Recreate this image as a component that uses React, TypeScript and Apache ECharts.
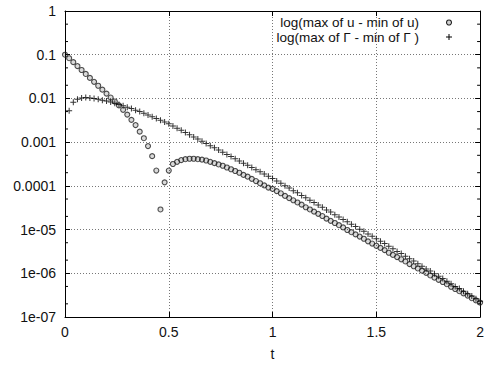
import React, { useEffect, useRef } from "react";
import * as echarts from "echarts";

// Sampling step of the time series (t)
const timeStep = 0.02;

// Base-10 exponents of (max of u - min of u), sampled at t = 0, 0.02, ..., 2
const uSpreadExp = [
  -1.0, -1.08, -1.17, -1.26, -1.35, -1.44, -1.53, -1.62, -1.71, -1.8,
  -1.89, -1.98, -2.07, -2.16, -2.26, -2.37, -2.49, -2.61, -2.76, -2.91,
  -3.09, -3.32, -3.65, -4.54, -3.92, -3.65, -3.5, -3.45, -3.41, -3.39,
  -3.38, -3.38, -3.39, -3.4, -3.42, -3.45, -3.48, -3.51, -3.54, -3.58,
  -3.62, -3.66, -3.7, -3.75, -3.79, -3.84, -3.89, -3.94, -3.99, -4.04,
  -4.07, -4.12, -4.17, -4.23, -4.28, -4.33, -4.38, -4.43, -4.49, -4.54,
  -4.59, -4.64, -4.69, -4.75, -4.8, -4.85, -4.9, -4.95, -5.01, -5.06,
  -5.11, -5.16, -5.21, -5.27, -5.32, -5.37, -5.42, -5.47, -5.53, -5.58,
  -5.63, -5.68, -5.73, -5.79, -5.84, -5.89, -5.94, -5.99, -6.05, -6.1,
  -6.15, -6.2, -6.25, -6.31, -6.36, -6.41, -6.46, -6.51, -6.57, -6.62,
  -6.67,
];

// Base-10 exponents of (max of Γ - min of Γ), sampled at t = 0.02, 0.04, ..., 2
const gammaSpreadExp = [
  -2.28, -2.09, -2.02, -1.99, -1.98, -1.99, -2.0, -2.02, -2.04, -2.06,
  -2.08, -2.11, -2.14, -2.17, -2.2, -2.23, -2.27, -2.3, -2.34, -2.38,
  -2.42, -2.46, -2.5, -2.54, -2.58, -2.63, -2.68, -2.73, -2.78, -2.83,
  -2.88, -2.93, -2.98, -3.03, -3.08, -3.13, -3.18, -3.23, -3.28, -3.33,
  -3.38, -3.43, -3.48, -3.53, -3.58, -3.63, -3.68, -3.73, -3.78, -3.83,
  -3.89, -3.94, -4.0, -4.05, -4.11, -4.16, -4.22, -4.27, -4.33, -4.38,
  -4.44, -4.49, -4.55, -4.6, -4.66, -4.71, -4.77, -4.82, -4.88, -4.93,
  -4.99, -5.04, -5.1, -5.15, -5.21, -5.27, -5.32, -5.38, -5.44, -5.5,
  -5.55, -5.61, -5.67, -5.72, -5.78, -5.84, -5.9, -5.95, -6.01, -6.07,
  -6.12, -6.18, -6.24, -6.3, -6.35, -6.41, -6.47, -6.52, -6.58, -6.64,
];
const gammaFirstSample = 1;

// Decade labels, from 1e-07 up to 1
const yTickLabels = ["1e-07", "1e-06", "1e-05", "0.0001", "0.001", "0.01", "0.1", "1"];
const yMinExp = -7;
// Minor tick mantissas inside each decade
const yMinorMantissas = [2, 5];

const xMin = 0;
const xMax = 2;
const xInterval = 0.5;

const legendLabels = ["log(max of u - min of u)", "log(max of \u0393 - min of \u0393 )"];

const FONT = "'Liberation Sans', Arial, Helvetica, sans-serif";
const INK = "#111";
const PLUS_PATH = "path://M5,0h2v5h5v2h-5v5h-2v-5h-5v-2h5z";

const uPoints = uSpreadExp.map((e, i) => [Number((i * timeStep).toFixed(2)), Math.pow(10, e)]);
const gammaPoints = gammaSpreadExp.map((e, i) => [
  Number(((i + gammaFirstSample) * timeStep).toFixed(2)),
  Math.pow(10, e),
]);

const minorTickValues: number[][] = [];
for (let k = 0; k < yTickLabels.length - 1; k++) {
  for (const m of yMinorMantissas) {
    minorTickValues.push([xMin, m * Math.pow(10, yMinExp + k)]);
  }
}

export default function App() {
  const ref = useRef<HTMLDivElement>(null);

  useEffect(() => {
    if (!ref.current) return;
    const chart = echarts.init(ref.current, null, { renderer: "svg" });

    const axisLine = { show: true, onZero: false, lineStyle: { color: "#000", width: 1 } };
    const majorTick = { show: true, inside: true, length: 5, lineStyle: { color: "#000", width: 1 } };
    const gridLine = { show: true, lineStyle: { color: "#777", width: 1, type: [1, 2] as number[] } };

    const legendText = (text: string, y: number) => ({
      type: "text",
      x: 419,
      y,
      style: {
        text,
        fill: INK,
        font: `13.5px ${FONT}`,
        lineHeight: 13,
        align: "right",
        verticalAlign: "middle",
      },
    });

    chart.setOption({
      animation: false,
      backgroundColor: "#fff",
      grid: { left: 65, right: 1, top: 11, bottom: 43, containLabel: false },
      xAxis: [
        {
          type: "value",
          position: "bottom",
          min: xMin,
          max: xMax,
          interval: xInterval,
          axisLine,
          axisTick: majorTick,
          axisLabel: { color: INK, fontSize: 14, fontFamily: FONT, margin: 8, showMaxLabel: true },
          splitLine: gridLine,
          name: "t",
          nameLocation: "middle",
          nameGap: 30,
          nameTextStyle: { color: INK, fontSize: 14, fontFamily: FONT },
        },
        {
          type: "value",
          position: "top",
          min: xMin,
          max: xMax,
          interval: xInterval,
          axisLine,
          axisTick: majorTick,
          axisLabel: { show: false },
          splitLine: { show: false },
        },
      ],
      yAxis: [
        {
          type: "log",
          logBase: 10,
          position: "left",
          min: Math.pow(10, yMinExp),
          max: 1,
          axisLine,
          axisTick: majorTick,
          axisLabel: {
            color: INK,
            fontSize: 14,
            fontFamily: FONT,
            margin: 9,
            formatter: (v: number) => yTickLabels[Math.round(Math.log10(v)) - yMinExp] ?? "",
          },
          splitLine: gridLine,
        },
        {
          type: "log",
          logBase: 10,
          position: "right",
          min: Math.pow(10, yMinExp),
          max: 1,
          axisLine,
          axisTick: majorTick,
          axisLabel: { show: false },
          splitLine: { show: false },
        },
      ],
      series: [
        {
          type: "custom",
          name: "minor ticks",
          silent: true,
          clip: false,
          data: minorTickValues,
          renderItem: (_params: any, api: any) => {
            const left = api.coord([xMin, api.value(1)]);
            const right = api.coord([xMax, api.value(1)]);
            return {
              type: "group",
              children: [
                {
                  type: "line",
                  shape: { x1: left[0], y1: left[1], x2: left[0] + 3, y2: left[1] },
                  style: { stroke: "#000", lineWidth: 1 },
                },
                {
                  type: "line",
                  shape: { x1: right[0], y1: right[1], x2: right[0] - 3, y2: right[1] },
                  style: { stroke: "#000", lineWidth: 1 },
                },
              ],
            };
          },
        },
        {
          type: "scatter",
          name: legendLabels[0],
          data: uPoints,
          clip: false,
          symbol: "circle",
          symbolSize: 5,
          itemStyle: { color: "rgba(0,0,0,0.18)", borderColor: "#222", borderWidth: 1.1 },
        },
        {
          type: "scatter",
          name: legendLabels[1],
          data: gammaPoints,
          clip: false,
          symbol: PLUS_PATH,
          symbolSize: 6,
          itemStyle: { color: "#000" },
        },
      ],
      graphic: [
        legendText(legendLabels[0], 22),
        legendText(legendLabels[1], 37),
        {
          type: "circle",
          shape: { cx: 449, cy: 22.5, r: 2.5 },
          style: { fill: "rgba(0,0,0,0.18)", stroke: "#222", lineWidth: 1.1 },
        },
        {
          type: "group",
          children: [
            { type: "line", shape: { x1: 446, y1: 37, x2: 452, y2: 37 }, style: { stroke: "#000", lineWidth: 1 } },
            { type: "line", shape: { x1: 449, y1: 34, x2: 449, y2: 40 }, style: { stroke: "#000", lineWidth: 1 } },
          ],
        },
      ],
    });

    return () => chart.dispose();
  }, []);

  return (
    <div
      ref={ref}
      style={{ position: "fixed", left: 0, top: 0, width: 487, height: 366, background: "#fff" }}
    />
  );
}
